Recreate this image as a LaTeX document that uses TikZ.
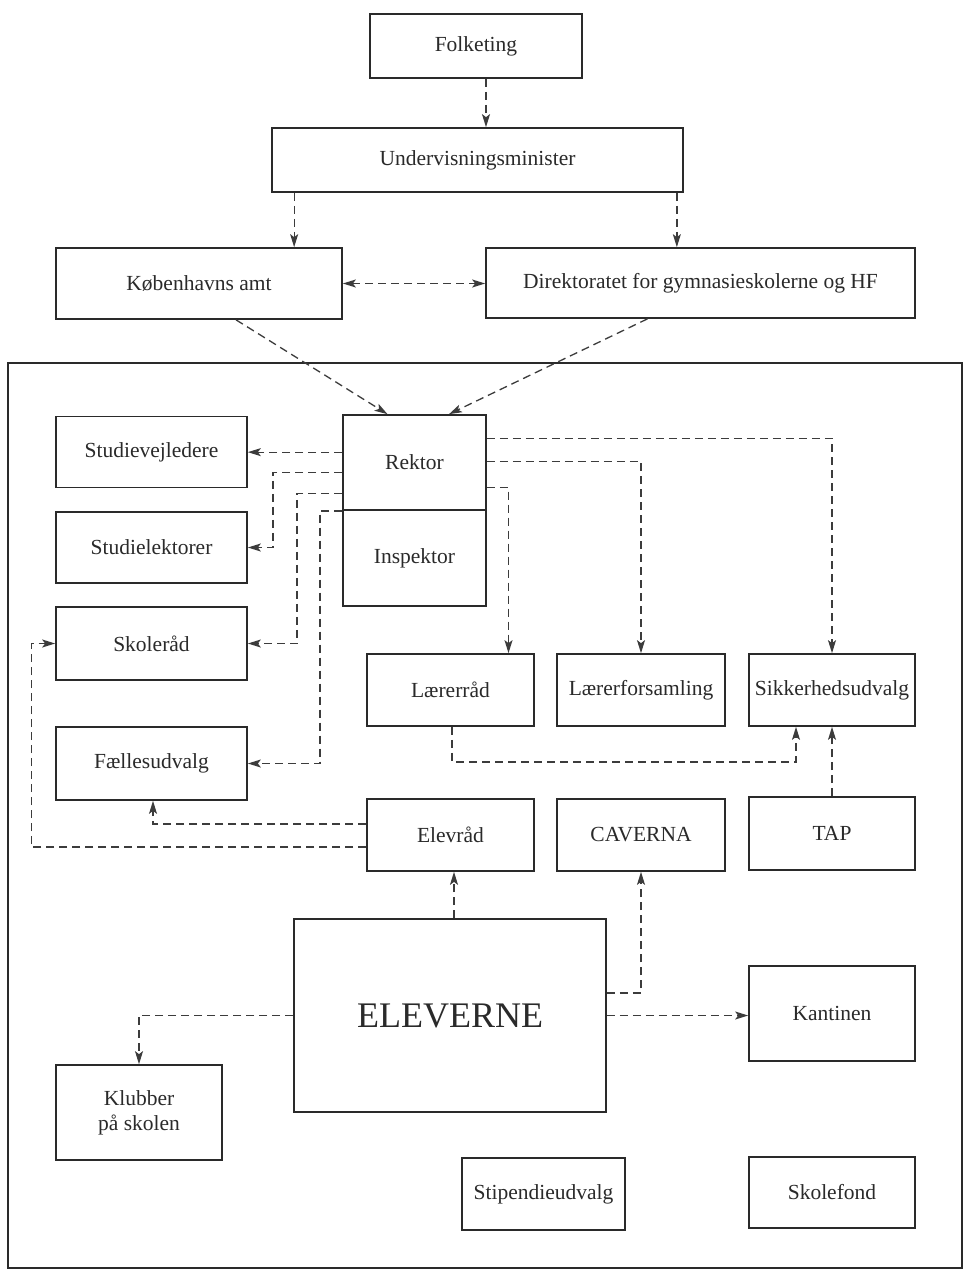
\documentclass[tikz,border=0pt]{standalone}
\usepackage{fontspec}
\setmainfont{Liberation Serif}
\usetikzlibrary{arrows.meta,calc}
\definecolor{ink}{HTML}{2A2A2A}
\definecolor{lnk}{HTML}{3C3C3C}
\begin{document}
\begin{tikzpicture}[x=1pt,y=-1pt,
  box/.style={draw=ink,line width=1.7pt,rectangle,inner sep=0pt,align=center,
    font=\fontsize{21.5}{25}\selectfont,text=ink},
  conn/.style={draw=lnk,line width=1.3pt,dash pattern=on 8pt off 5pt,
    -{Stealth[length=13pt,width=8pt,inset=3pt]}},
  conn2/.style={conn,{Stealth[length=13pt,width=8pt,inset=3pt]}-{Stealth[length=13pt,width=8pt,inset=3pt]}}]
\useasboundingbox (0,0) rectangle (969,1274);
\fill[white] (0,0) rectangle (969,1274);
% outer frame
\draw[ink,line width=2.6pt] (8,363) rectangle (962,1268);
% nodes
\node[box,minimum width=212pt,minimum height=64pt] (folk) at (476,46) {Folketing};
\node[box,minimum width=411pt,minimum height=64pt] (und) at (477.5,160) {Undervisningsminister};
\node[box,minimum width=286pt,minimum height=71pt] (kbh) at (199,283.5) {Københavns amt};
\node[box,minimum width=429pt,minimum height=70pt] (dir) at (700.5,283) {Direktoratet for gymnasieskolerne og HF};
\node[box,minimum width=143pt,minimum height=95pt] (rektor) at (414.5,462.5) {Rektor};
\node[box,minimum width=143pt,minimum height=96pt] (insp) at (414.5,558) {Inspektor};
\node[box,minimum width=191pt,minimum height=71pt] (studv) at (151.5,452) {Studievejledere};
\node[box,minimum width=191pt,minimum height=71pt] (studl) at (151.5,547.5) {Studielektorer};
\node[box,minimum width=191pt,minimum height=73pt] (skole) at (151.5,643.5) {Skoleråd};
\node[box,minimum width=191pt,minimum height=73pt] (faelles) at (151.5,763.5) {Fællesudvalg};
\node[box,minimum width=167pt,minimum height=72pt] (laererr) at (450.5,690) {Lærerråd};
\node[box,minimum width=168pt,minimum height=72pt] (laererf) at (641,690) {Lærerforsamling};
\node[box,minimum width=166pt,minimum height=72pt] (sikk) at (832,690) {Sikkerhedsudvalg};
\node[box,minimum width=167pt,minimum height=72pt] (elevr) at (450.5,835) {Elevråd};
\node[box,minimum width=168pt,minimum height=72pt] (cav) at (641,835) {CAVERNA};
\node[box,minimum width=166pt,minimum height=73pt] (tap) at (832,833.5) {TAP};
\node[box,minimum width=312pt,minimum height=193pt,font=\fontsize{36}{40}\selectfont] (elev) at (450,1015.5) {ELEVERNE};
\node[box,minimum width=166pt,minimum height=95pt] (kant) at (832,1013.5) {Kantinen};
\node[box,minimum width=166pt,minimum height=95pt] (klub) at (139,1112.5) {Klubber\\på skolen};
\node[box,minimum width=163pt,minimum height=72pt] (stip) at (543.5,1194) {Stipendieudvalg};
\node[box,minimum width=166pt,minimum height=71pt] (skf) at (832,1192.5) {Skolefond};
% top connectors
\draw[conn] ($(folk.south)+(10,0)$) coordinate (f1) -- (f1 |- und.north);
\draw[conn] ($(und.south west)+(23,0)$) coordinate (u1) -- (u1 |- kbh.north);
\draw[conn] ($(und.south east)+(-7,0)$) coordinate (u2) -- (u2 |- dir.north);
\draw[conn2] (kbh.east) -- (kbh.east -| dir.west);
\draw[conn] ($(kbh.south)+(37,0)$) -- ($(rektor.north)+(-27,0)$);
\draw[conn] ($(dir.south)+(-53,0)$) -- ($(rektor.north)+(34.5,0)$);
% Rektor left side
\draw[conn] ($(rektor.north west)+(0,38)$) coordinate (r1) -- (r1 -| studv.east);
\draw[conn] ($(rektor.north west)+(0,58)$) -| ($(studl.east)+(25,0)$) -- (studl.east);
\draw[conn] ($(rektor.north west)+(0,79)$) -| ($(skole.east)+(49,0)$) -- (skole.east);
\draw[conn] (rektor.south west) -| ($(faelles.east)+(72,0)$) -- (faelles.east);
% Rektor right side
\draw[conn] ($(rektor.north east)+(0,24)$) -| (sikk.north);
\draw[conn] ($(rektor.north east)+(0,47)$) -| (laererf.north);
\draw[conn] ($(rektor.north east)+(0,73)$) -| ($(laererr.north)+(58,0)$);
% Laererraad / TAP to Sikkerhedsudvalg
\draw[conn] ($(laererr.south)+(1.5,0)$) -- ++(0,35) -| ($(sikk.south)+(-36,0)$);
\draw[conn] (tap.north) -- (sikk.south);
% Elevraad
\draw[conn] ($(elevr.west)+(0,-11)$) -| ($(faelles.south)+(1.5,0)$);
\draw[conn] ($(elevr.west)+(0,12)$) -| ($(skole.west)+(-24,0)$) -- (skole.west);
% Eleverne
\draw[conn] ($(elev.north)+(4,0)$) coordinate (e1) -- (e1 |- elevr.south);
\draw[conn] ($(elev.east)+(0,-22.5)$) -| (cav.south);
\draw[conn] (elev.east) -- (elev.east -| kant.west);
\draw[conn] (elev.west) -| (klub.north);
\end{tikzpicture}
\end{document}
